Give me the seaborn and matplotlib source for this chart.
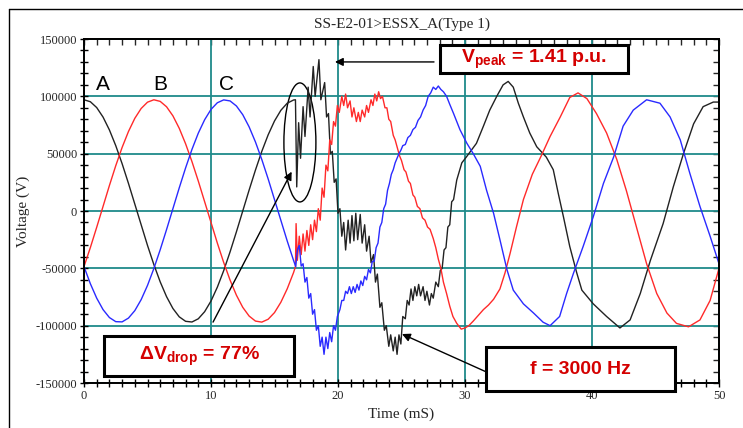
import matplotlib
matplotlib.use("Agg")
import matplotlib.pyplot as plt
import matplotlib.patches as patches
from matplotlib.lines import Line2D
from matplotlib.ticker import MultipleLocator
import seaborn as sns
import numpy as np
import pandas as pd

# pre-fault samples, 0 .. 16.5 ms every 0.5 ms (kV)
t_pre = np.arange(0, 16.51, 0.5)
a_pre = [97.0, 95.3, 90.2, 81.9, 70.7, 57.0, 41.3, 24.1, 6.1, -12.2, -30.0, -46.7,
         -61.8, -74.7, -85.0, -92.3, -96.2, -96.8, -94.0, -87.8, -78.5, -66.4, -52.0,
         -35.7, -18.2, 0.0, 18.2, 35.7, 52.0, 66.4, 78.5, 87.8, 94.0, 96.8]
b_pre = [-48.5, -31.9, -14.2, 4.1, 22.2, 39.5, 55.4, 69.3, 80.8, 89.4, 94.9, 97.0,
         95.6, 90.9, 83.0, 72.1, 58.6, 43.1, 26.1, 8.1, -10.1, -28.0, -44.9, -60.2,
         -73.4, -84.0, -91.6, -96.0, -96.9, -94.4, -88.6, -79.6, -67.9, -53.7]
c_pre = [-48.5, -63.4, -76.0, -86.0, -92.9, -96.5, -96.7, -93.4, -86.9, -77.3, -64.9,
         -50.2, -33.8, -16.2, 2.0, 20.2, 37.6, 53.7, 67.9, 79.6, 88.6, 94.4, 96.9,
         96.0, 91.6, 84.0, 73.4, 60.2, 44.9, 28.0, 10.1, -8.1, -26.1, -43.1]

# fault and post-fault samples (ms, kV)
a_post = [(16.65, 97), (16.75, 21), (16.9, 77), (17.05, 46), (17.25, 91), (17.4, 65),
          (17.65, 108), (17.8, 82), (18.05, 126), (18.2, 100), (18.5, 132), (18.65, 97),
          (18.95, 112), (19.1, 82), (19.25, 85), (19.4, 50), (19.55, 52), (19.7, 25),
          (19.85, 28), (20.0, -2), (20.15, 2), (20.3, -22), (20.45, -10), (20.6, -34),
          (20.8, -8), (20.95, -28), (21.1, -4), (21.25, -26), (21.4, -2), (21.55, -25),
          (21.75, -3), (21.9, -28), (22.1, -12), (22.25, -35), (22.45, -22), (22.6, -45),
          (22.8, -38), (22.95, -62), (23.1, -55), (23.3, -84), (23.45, -80), (23.65, -104),
          (23.8, -100), (24.0, -118), (24.15, -108), (24.35, -122), (24.5, -110),
          (24.65, -125), (24.8, -108), (24.95, -116), (25.1, -92), (25.3, -94),
          (25.45, -78), (25.6, -82), (25.75, -68), (25.9, -78), (26.05, -66), (26.2, -74),
          (26.35, -64), (26.5, -74), (26.7, -66), (26.85, -78), (27.0, -70), (27.2, -82),
          (27.35, -72), (27.5, -76), (27.7, -62), (27.9, -66), (28.05, -52), (28.2, -50),
          (28.35, -34), (28.5, -32), (28.65, -14), (28.8, -12), (28.95, 8), (29.1, 10),
          (29.35, 27), (29.75, 42), (30.1, 47), (30.5, 53), (30.9, 59), (31.45, 74),
          (31.95, 88), (32.5, 100), (33.0, 110), (33.4, 113), (33.8, 108), (34.2, 94),
          (34.6, 82), (35.1, 68), (35.65, 56), (36.4, 47), (36.95, 36), (37.35, 15),
          (37.75, -5), (38.25, -31), (38.8, -54), (39.2, -69), (40.1, -81), (41.15, -92),
          (42.2, -102), (43.0, -95), (43.8, -72), (44.6, -43), (45.6, -11), (46.4, 21),
          (47.2, 50), (48.0, 76), (48.75, 91), (49.55, 95), (50.0, 95)]
b_post = [(16.65, -48.5), (16.7, -11), (16.8, -43), (16.95, -22), (17.1, -38), (17.25, -20),
          (17.4, -35), (17.55, -17), (17.7, -30), (17.85, -12), (18.0, -25), (18.15, -8),
          (18.3, -18), (18.45, 2), (18.6, -8), (18.75, 20), (18.9, 12), (19.05, 40),
          (19.2, 35), (19.35, 62), (19.5, 58), (19.65, 78), (19.8, 74), (19.95, 92),
          (20.1, 86), (20.3, 100), (20.45, 92), (20.6, 102), (20.75, 90), (20.95, 96),
          (21.1, 82), (21.25, 90), (21.45, 78), (21.6, 86), (21.75, 78), (21.9, 88),
          (22.1, 82), (22.25, 92), (22.4, 86), (22.6, 97), (22.75, 92), (22.9, 102),
          (23.05, 96), (23.2, 104), (23.35, 98), (23.5, 100), (23.7, 90), (23.85, 90),
          (24.0, 80), (24.15, 78), (24.35, 66), (24.5, 62), (24.7, 54), (24.85, 48),
          (25.0, 44), (25.2, 36), (25.35, 34), (25.55, 26), (25.7, 24), (25.9, 14),
          (26.05, 12), (26.25, 4), (26.45, 2), (26.65, -6), (26.85, -8), (27.05, -14),
          (27.25, -16), (27.5, -24), (27.7, -32), (27.9, -42), (28.1, -50), (28.3, -62),
          (28.55, -72), (28.8, -83), (29.05, -92), (29.35, -98), (29.7, -103), (30.0, -102),
          (30.3, -100), (30.65, -96), (31.05, -91), (31.45, -86), (31.85, -82),
          (32.25, -77), (32.75, -68), (33.15, -54), (33.55, -37), (34.05, -14), (34.6, 10),
          (35.3, 32), (36.0, 48), (36.7, 65), (37.5, 82), (38.25, 99), (38.9, 103),
          (39.6, 98), (40.35, 85), (41.15, 68), (41.95, 45), (42.7, 18), (43.5, -14),
          (44.3, -46), (45.1, -72), (45.9, -89), (46.65, -98), (47.6, -101), (48.5, -95),
          (49.3, -78), (50.0, -50)]
c_post = [(16.67, -48.5), (16.8, -34), (16.95, -30), (17.1, -48), (17.25, -46), (17.4, -62),
          (17.55, -58), (17.7, -76), (17.85, -72), (18.0, -90), (18.15, -86), (18.3, -104),
          (18.45, -100), (18.6, -118), (18.75, -110), (18.9, -125), (19.05, -110),
          (19.2, -120), (19.35, -106), (19.5, -114), (19.65, -100), (19.8, -104),
          (19.95, -92), (20.15, -86), (20.3, -78), (20.45, -78), (20.6, -70), (20.75, -72),
          (20.9, -66), (21.05, -72), (21.2, -66), (21.35, -71), (21.5, -64), (21.65, -69),
          (21.8, -61), (21.95, -65), (22.1, -57), (22.25, -60), (22.4, -51), (22.55, -54),
          (22.7, -44), (22.85, -44), (23.0, -32), (23.15, -28), (23.3, -14), (23.45, -10),
          (23.6, 2), (23.75, 6), (23.9, 18), (24.05, 24), (24.2, 32), (24.35, 36),
          (24.5, 42), (24.65, 46), (24.8, 50), (24.95, 53), (25.1, 57), (25.3, 58),
          (25.5, 64), (25.7, 66), (25.9, 71), (26.1, 73), (26.3, 79), (26.5, 82),
          (26.7, 88), (26.9, 92), (27.1, 100), (27.3, 103), (27.5, 108), (27.7, 106),
          (27.9, 109), (28.1, 106), (28.3, 104), (28.55, 100), (28.8, 93), (29.1, 85),
          (29.6, 71), (30.15, 59), (30.65, 50), (31.2, 39), (31.7, 18), (32.25, -2),
          (32.75, -25), (33.3, -51), (33.8, -69), (34.6, -81), (35.4, -89), (36.15, -97),
          (36.7, -100), (37.45, -92), (38.0, -72), (38.55, -54), (39.3, -31), (40.1, -5),
          (40.9, 24), (41.7, 47), (42.45, 74), (43.25, 88), (44.3, 97), (45.35, 94),
          (46.15, 82), (46.95, 62), (47.7, 33), (48.5, 4), (49.3, -22), (50.0, -46)]

phases = ["A", "B", "C"]
colors = {"A": "#222222", "B": "#ff2a2a", "C": "#2a2aff"}

frames = []
for name, pre, post in zip(phases, [a_pre, b_pre, c_pre], [a_post, b_post, c_post]):
    pt, pv = zip(*post)
    t = np.concatenate([t_pre, pt])
    v = np.concatenate([pre, pv]) * 1000
    frames.append(pd.DataFrame({"time": t, "voltage": v, "phase": name}))
df = pd.concat(frames, ignore_index=True)

sns.set_theme(style="ticks")
plt.rcParams["font.family"] = ["Liberation Serif", "DejaVu Serif"]
plt.rcParams["axes.unicode_minus"] = False
plt.rcParams["mathtext.fontset"] = "custom"
plt.rcParams["mathtext.bf"] = "Liberation Sans:bold"
plt.rcParams["mathtext.rm"] = "Liberation Sans"

fig = plt.figure(figsize=(7.43, 4.28), dpi=100)
ax = fig.add_axes([84 / 743, 1 - 383 / 428, 635 / 743, 344 / 428])

sns.lineplot(data=df, x="time", y="voltage", hue="phase", palette=colors,
             estimator=None, sort=False, legend=False, lw=1.0, ax=ax)

ax.set_xlim(0, 50)
ax.set_ylim(-150000, 150000)
ax.xaxis.set_major_locator(MultipleLocator(10))
ax.xaxis.set_minor_locator(MultipleLocator(1))
ax.yaxis.set_major_locator(MultipleLocator(50000))
ax.yaxis.set_minor_locator(MultipleLocator(10000))
ax.grid(which="major", color="#1f8a8a", lw=1.3)
ax.tick_params(which="both", direction="inout", length=6, width=1, color="black",
               labelsize=9, pad=2)
for s in ax.spines.values():
    s.set_linewidth(1.4)
    s.set_color("black")

sec_x = ax.secondary_xaxis("top")
sec_x.xaxis.set_major_locator(MultipleLocator(1))
sec_x.tick_params(direction="in", length=4, width=1, labeltop=False)
sec_x.spines["top"].set_linewidth(1.4)
sec_y = ax.secondary_yaxis("right")
sec_y.yaxis.set_major_locator(MultipleLocator(10000))
sec_y.tick_params(direction="in", length=4, width=1, labelright=False)
sec_y.spines["right"].set_linewidth(1.4)

ax.set_title("SS-E2-01>ESSX_A(Type 1)", fontsize=11, pad=8)
ax.set_xlabel("Time (mS)", fontsize=11, labelpad=4)
ax.set_ylabel("Voltage (V)", fontsize=11, labelpad=4)

# phase labels
for lab, tx in zip(phases, [1.5, 6.0, 11.25]):
    ax.text(tx, 110000, lab, fontsize=15, family="Liberation Sans", ha="center",
            va="center", color="black")

# ellipse around the sag
ax.add_patch(patches.Ellipse((17.0, 59800), 2.52, 103800, fill=False, ec="black", lw=1))

arrow = dict(arrowstyle="-|>", color="black", lw=1, mutation_scale=12, shrinkA=0, shrinkB=0)
ax.annotate("", xy=(19.76, 130000), xytext=(27.56, 130000), arrowprops=arrow)
ax.annotate("", xy=(25.04, -107300), xytext=(31.89, -141400), arrowprops=arrow,
            annotation_clip=False)
ax.annotate("", xy=(16.35, 34300), xytext=(10.16, -96900), arrowprops=arrow)

boxes = [
    ((0.5606, 0.901), 0.2961, 0.0816, r"V$_{\mathbf{peak}}$ = 1.41 p.u."),
    ((0.0315, 0.0203), 0.2992, 0.1163, r"ΔV$_{\mathbf{drop}}$ = 77%"),
    ((0.633, -0.0233), 0.2977, 0.1265, "f = 3000 Hz"),
]
for (x0, y0), w, h, txt in boxes:
    ax.add_patch(patches.Rectangle((x0, y0), w, h, transform=ax.transAxes, fc="white",
                                   ec="black", lw=2.2, clip_on=False, zorder=5))
    ax.text(x0 + w / 2, y0 + h / 2, txt, transform=ax.transAxes, ha="center", va="center",
            fontsize=14, fontweight="bold", family="Liberation Sans", color="#d40000",
            zorder=6)

# outer frame of the original screenshot
fig.add_artist(Line2D([9 / 743, 9 / 743], [0, 1 - 9 / 428], transform=fig.transFigure,
                      color="black", lw=1))
fig.add_artist(Line2D([9 / 743, 1], [1 - 9 / 428, 1 - 9 / 428], transform=fig.transFigure,
                      color="black", lw=1))

fig.savefig("out.png", dpi=100)
